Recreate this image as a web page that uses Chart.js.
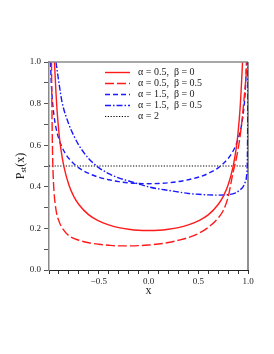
<!DOCTYPE html>
<html>
<head>
<meta charset="utf-8">
<script src="https://cdn.jsdelivr.net/npm/chart.js@4.4.0/dist/chart.umd.min.js"></script>
<style>
  html, body { margin: 0; padding: 0; background: #fff; }
  #wrap { width: 274px; height: 354px; }
</style>
</head>
<body>
<div id="wrap"><canvas id="chart"></canvas></div>
<script>
// values
const seriesLabels = ['\u03b1 = 0.5,  \u03b2 = 0', '\u03b1 = 0.5,  \u03b2 = 0.5', '\u03b1 = 1.5,  \u03b2 = 0', '\u03b1 = 1.5,  \u03b2 = 0.5', '\u03b1 = 2'];

const redSolidX = [-0.945, -0.93, -0.92, -0.9, -0.88, -0.85, -0.8, -0.75, -0.7, -0.6, -0.5, -0.4, -0.3, -0.2, -0.1, 0,
  0.1, 0.2, 0.3, 0.4, 0.5, 0.6, 0.7, 0.75, 0.8, 0.85, 0.88, 0.9, 0.92, 0.93, 0.945];
const redSolidY = [1.0, 0.853, 0.774, 0.66, 0.58, 0.497, 0.409, 0.353, 0.315, 0.265, 0.236, 0.217, 0.204, 0.196, 0.191, 0.19,
  0.191, 0.196, 0.204, 0.217, 0.236, 0.265, 0.315, 0.353, 0.409, 0.497, 0.58, 0.66, 0.774, 0.853, 1.0];

const redDashX = [-0.975, -0.97, -0.965, -0.96, -0.95, -0.93, -0.9, -0.85, -0.8, -0.7, -0.6, -0.5, -0.4, -0.3, -0.2, -0.1, 0,
  0.1, 0.2, 0.3, 0.4, 0.5, 0.6, 0.7, 0.75, 0.8, 0.85, 0.88, 0.9, 0.92, 0.94, 0.96, 0.98, 0.99];
const redDashY = [1.0, 0.75, 0.58, 0.48, 0.38, 0.29, 0.235, 0.19, 0.165, 0.143, 0.131, 0.124, 0.119, 0.116, 0.116, 0.117, 0.12,
  0.125, 0.132, 0.143, 0.156, 0.175, 0.205, 0.25, 0.285, 0.35, 0.47, 0.53, 0.58, 0.64, 0.72, 0.82, 0.93, 1.0];

const blueDashX = [-0.985, -0.98, -0.97, -0.95, -0.93, -0.9, -0.85, -0.8, -0.7, -0.6, -0.5, -0.4, -0.3, -0.2, -0.1, 0,
  0.1, 0.2, 0.3, 0.4, 0.5, 0.6, 0.7, 0.8, 0.85, 0.9, 0.93, 0.95, 0.97, 0.98, 0.985];
const blueDashY = [1.0, 0.93, 0.842, 0.743, 0.685, 0.629, 0.572, 0.536, 0.491, 0.464, 0.446, 0.434, 0.425, 0.419, 0.416, 0.415,
  0.416, 0.419, 0.425, 0.434, 0.446, 0.464, 0.491, 0.536, 0.572, 0.629, 0.685, 0.743, 0.842, 0.93, 1.0];

const blueDotDashX = [-0.93, -0.9, -0.87, -0.8, -0.75, -0.7, -0.6, -0.5, -0.4, -0.3, -0.2, -0.1, 0,
  0.1, 0.2, 0.3, 0.4, 0.5, 0.6, 0.7, 0.8, 0.87, 0.92, 0.95, 0.97, 0.985, 0.993, 0.997, 1.0];
const blueDotDashY = [1.0, 0.9, 0.81, 0.7, 0.645, 0.6, 0.535, 0.492, 0.463, 0.443, 0.428, 0.414, 0.40,
  0.39, 0.383, 0.375, 0.368, 0.364, 0.361, 0.36, 0.362, 0.37, 0.385, 0.40, 0.42, 0.45, 0.52, 0.7, 1.0];

const flatX = [-1, 1];
const flatY = [0.5, 0.5];

const RED = '#ff1a1a';
const BLUE = '#1a1aff';

function pts(xs, ys) {
  return xs.map((x, i) => ({ x: x, y: ys[i] }));
}

const styles = [
  { color: RED, dash: [], width: 1.4 },
  { color: RED, dash: [9, 3], width: 1.4 },
  { color: BLUE, dash: [5, 3], width: 1.4 },
  { color: BLUE, dash: [6, 2, 1.5, 2], width: 1.4 },
  { color: '#000', dash: [1.2, 1.6], width: 1.1 }
];

const allData = [pts(redSolidX, redSolidY), pts(redDashX, redDashY), pts(blueDashX, blueDashY),
  pts(blueDotDashX, blueDotDashY), pts(flatX, flatY)];

const datasets = allData.map((d, i) => ({
  label: seriesLabels[i],
  data: d,
  borderColor: styles[i].color,
  borderDash: styles[i].dash,
  borderWidth: styles[i].width,
  pointRadius: 0,
  fill: false,
  cubicInterpolationMode: 'monotone'
}));

// legend, frame and axis titles drawn by hand
const extras = {
  id: 'extras',
  afterDraw(chart) {
    const ctx = chart.ctx;
    const a = chart.chartArea;
    ctx.save();
    // frame
    ctx.strokeStyle = '#8a8a8a';
    ctx.lineWidth = 1.3;
    ctx.beginPath();
    ctx.moveTo(a.left, a.top);
    ctx.lineTo(a.right, a.top);
    ctx.stroke();
    ctx.strokeStyle = '#222';
    ctx.lineWidth = 1;
    ctx.beginPath();
    ctx.moveTo(a.right, a.top);
    ctx.lineTo(a.right, a.bottom);
    ctx.stroke();

    // legend
    ctx.font = '10px "Liberation Serif"';
    ctx.textBaseline = 'middle';
    ctx.textAlign = 'left';
    chart.data.datasets.forEach((ds, i) => {
      const y = 72.5 + i * 11;
      ctx.strokeStyle = ds.borderColor;
      ctx.lineWidth = ds.borderWidth;
      ctx.setLineDash(ds.borderDash);
      ctx.beginPath();
      ctx.moveTo(105, y);
      ctx.lineTo(130, y);
      ctx.stroke();
      ctx.setLineDash([]);
      ctx.fillStyle = '#222';
      ctx.fillText(ds.label, 138, y);
    });

    // x title
    ctx.font = '12px "Liberation Serif"';
    ctx.textAlign = 'center';
    ctx.fillText('x', (a.left + a.right) / 2, 291);

    // y title with subscript
    ctx.translate(21, (a.top + a.bottom) / 2);
    ctx.rotate(-Math.PI / 2);
    const big = '12px "Liberation Serif"';
    const small = '8.5px "Liberation Serif"';
    ctx.font = big;
    const wP = ctx.measureText('P').width;
    const wX = ctx.measureText('(x)').width;
    ctx.font = small;
    const wS = ctx.measureText('st').width;
    let x0 = -(wP + wS + wX) / 2;
    ctx.textAlign = 'left';
    ctx.font = big;
    ctx.fillText('P', x0, 0);
    ctx.font = small;
    ctx.fillText('st', x0 + wP, 3);
    ctx.font = big;
    ctx.fillText('(x)', x0 + wP + wS, 0);
    ctx.restore();
  }
};

Chart.defaults.font.family = '"Liberation Serif", serif';
Chart.defaults.color = '#222';

new Chart(document.getElementById('chart'), {
  type: 'line',
  data: { datasets: datasets },
  options: {
    responsive: true,
    maintainAspectRatio: false,
    animation: false,
    layout: { padding: { left: 0, right: 26, top: 62, bottom: 0 } },
    plugins: { legend: { display: false }, tooltip: { enabled: false } },
    scales: {
      x: {
        type: 'linear',
        min: -1,
        max: 1,
        afterFit(scale) { scale.height = 84; },
        ticks: {
          stepSize: 0.1,
          autoSkip: false,
          maxRotation: 0,
          padding: 2,
          font: { size: 9 },
          callback(v) {
            const k = Math.round(v * 10);
            if (k % 5 !== 0 || k === -10) return '';
            return (k < 0 ? '\u2212' : '') + Math.abs(v).toFixed(1);
          }
        },
        grid: { drawOnChartArea: false, tickLength: 4, color: '#333' },
        border: { color: '#222', width: 1 }
      },
      y: {
        min: 0,
        max: 1,
        afterFit(scale) { scale.width = 49; },
        ticks: {
          stepSize: 0.1,
          autoSkip: false,
          padding: 3,
          font: { size: 9 },
          callback(v) {
            const k = Math.round(v * 10);
            return k % 2 === 0 ? (k / 10).toFixed(1) : '';
          }
        },
        grid: { drawOnChartArea: false, tickLength: 5, color: '#555' },
        border: { color: '#8a8a8a', width: 1.5 }
      }
    }
  },
  plugins: [extras]
});
</script>
</body>
</html>
